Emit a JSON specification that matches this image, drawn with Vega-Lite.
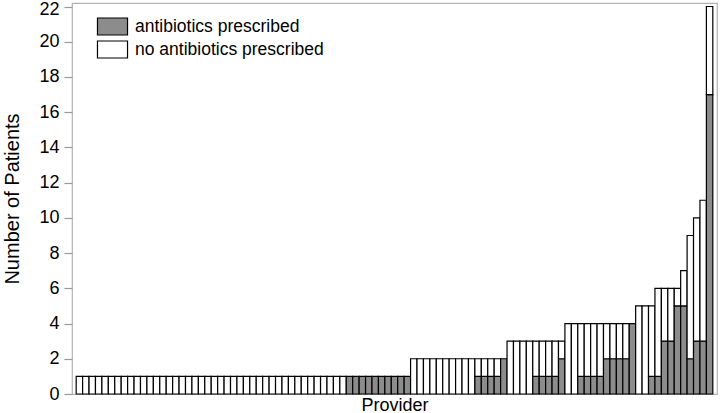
{
  "$schema": "https://vega.github.io/schema/vega-lite/v6.json",
  "autosize": {"type": "none"},
  "padding": {"left": 72, "top": 3, "right": 3, "bottom": 19},
  "width": 645,
  "height": 391,
  "background": "white",
  "config": {
    "font": "Liberation Sans",
    "view": {"stroke": "#b3b3b3", "strokeWidth": 1.2}
  },
  "data": {
    "values": [
      {"p":1,"antibiotics prescribed":0,"no antibiotics prescribed":1},
      {"p":2,"antibiotics prescribed":0,"no antibiotics prescribed":1},
      {"p":3,"antibiotics prescribed":0,"no antibiotics prescribed":1},
      {"p":4,"antibiotics prescribed":0,"no antibiotics prescribed":1},
      {"p":5,"antibiotics prescribed":0,"no antibiotics prescribed":1},
      {"p":6,"antibiotics prescribed":0,"no antibiotics prescribed":1},
      {"p":7,"antibiotics prescribed":0,"no antibiotics prescribed":1},
      {"p":8,"antibiotics prescribed":0,"no antibiotics prescribed":1},
      {"p":9,"antibiotics prescribed":0,"no antibiotics prescribed":1},
      {"p":10,"antibiotics prescribed":0,"no antibiotics prescribed":1},
      {"p":11,"antibiotics prescribed":0,"no antibiotics prescribed":1},
      {"p":12,"antibiotics prescribed":0,"no antibiotics prescribed":1},
      {"p":13,"antibiotics prescribed":0,"no antibiotics prescribed":1},
      {"p":14,"antibiotics prescribed":0,"no antibiotics prescribed":1},
      {"p":15,"antibiotics prescribed":0,"no antibiotics prescribed":1},
      {"p":16,"antibiotics prescribed":0,"no antibiotics prescribed":1},
      {"p":17,"antibiotics prescribed":0,"no antibiotics prescribed":1},
      {"p":18,"antibiotics prescribed":0,"no antibiotics prescribed":1},
      {"p":19,"antibiotics prescribed":0,"no antibiotics prescribed":1},
      {"p":20,"antibiotics prescribed":0,"no antibiotics prescribed":1},
      {"p":21,"antibiotics prescribed":0,"no antibiotics prescribed":1},
      {"p":22,"antibiotics prescribed":0,"no antibiotics prescribed":1},
      {"p":23,"antibiotics prescribed":0,"no antibiotics prescribed":1},
      {"p":24,"antibiotics prescribed":0,"no antibiotics prescribed":1},
      {"p":25,"antibiotics prescribed":0,"no antibiotics prescribed":1},
      {"p":26,"antibiotics prescribed":0,"no antibiotics prescribed":1},
      {"p":27,"antibiotics prescribed":0,"no antibiotics prescribed":1},
      {"p":28,"antibiotics prescribed":0,"no antibiotics prescribed":1},
      {"p":29,"antibiotics prescribed":0,"no antibiotics prescribed":1},
      {"p":30,"antibiotics prescribed":0,"no antibiotics prescribed":1},
      {"p":31,"antibiotics prescribed":0,"no antibiotics prescribed":1},
      {"p":32,"antibiotics prescribed":0,"no antibiotics prescribed":1},
      {"p":33,"antibiotics prescribed":0,"no antibiotics prescribed":1},
      {"p":34,"antibiotics prescribed":0,"no antibiotics prescribed":1},
      {"p":35,"antibiotics prescribed":0,"no antibiotics prescribed":1},
      {"p":36,"antibiotics prescribed":0,"no antibiotics prescribed":1},
      {"p":37,"antibiotics prescribed":0,"no antibiotics prescribed":1},
      {"p":38,"antibiotics prescribed":0,"no antibiotics prescribed":1},
      {"p":39,"antibiotics prescribed":0,"no antibiotics prescribed":1},
      {"p":40,"antibiotics prescribed":0,"no antibiotics prescribed":1},
      {"p":41,"antibiotics prescribed":0,"no antibiotics prescribed":1},
      {"p":42,"antibiotics prescribed":0,"no antibiotics prescribed":1},
      {"p":43,"antibiotics prescribed":1,"no antibiotics prescribed":0},
      {"p":44,"antibiotics prescribed":1,"no antibiotics prescribed":0},
      {"p":45,"antibiotics prescribed":1,"no antibiotics prescribed":0},
      {"p":46,"antibiotics prescribed":1,"no antibiotics prescribed":0},
      {"p":47,"antibiotics prescribed":1,"no antibiotics prescribed":0},
      {"p":48,"antibiotics prescribed":1,"no antibiotics prescribed":0},
      {"p":49,"antibiotics prescribed":1,"no antibiotics prescribed":0},
      {"p":50,"antibiotics prescribed":1,"no antibiotics prescribed":0},
      {"p":51,"antibiotics prescribed":1,"no antibiotics prescribed":0},
      {"p":52,"antibiotics prescribed":1,"no antibiotics prescribed":0},
      {"p":53,"antibiotics prescribed":0,"no antibiotics prescribed":2},
      {"p":54,"antibiotics prescribed":0,"no antibiotics prescribed":2},
      {"p":55,"antibiotics prescribed":0,"no antibiotics prescribed":2},
      {"p":56,"antibiotics prescribed":0,"no antibiotics prescribed":2},
      {"p":57,"antibiotics prescribed":0,"no antibiotics prescribed":2},
      {"p":58,"antibiotics prescribed":0,"no antibiotics prescribed":2},
      {"p":59,"antibiotics prescribed":0,"no antibiotics prescribed":2},
      {"p":60,"antibiotics prescribed":0,"no antibiotics prescribed":2},
      {"p":61,"antibiotics prescribed":0,"no antibiotics prescribed":2},
      {"p":62,"antibiotics prescribed":0,"no antibiotics prescribed":2},
      {"p":63,"antibiotics prescribed":1,"no antibiotics prescribed":1},
      {"p":64,"antibiotics prescribed":1,"no antibiotics prescribed":1},
      {"p":65,"antibiotics prescribed":1,"no antibiotics prescribed":1},
      {"p":66,"antibiotics prescribed":1,"no antibiotics prescribed":1},
      {"p":67,"antibiotics prescribed":2,"no antibiotics prescribed":0},
      {"p":68,"antibiotics prescribed":0,"no antibiotics prescribed":3},
      {"p":69,"antibiotics prescribed":0,"no antibiotics prescribed":3},
      {"p":70,"antibiotics prescribed":0,"no antibiotics prescribed":3},
      {"p":71,"antibiotics prescribed":0,"no antibiotics prescribed":3},
      {"p":72,"antibiotics prescribed":1,"no antibiotics prescribed":2},
      {"p":73,"antibiotics prescribed":1,"no antibiotics prescribed":2},
      {"p":74,"antibiotics prescribed":1,"no antibiotics prescribed":2},
      {"p":75,"antibiotics prescribed":1,"no antibiotics prescribed":2},
      {"p":76,"antibiotics prescribed":2,"no antibiotics prescribed":1},
      {"p":77,"antibiotics prescribed":0,"no antibiotics prescribed":4},
      {"p":78,"antibiotics prescribed":0,"no antibiotics prescribed":4},
      {"p":79,"antibiotics prescribed":1,"no antibiotics prescribed":3},
      {"p":80,"antibiotics prescribed":1,"no antibiotics prescribed":3},
      {"p":81,"antibiotics prescribed":1,"no antibiotics prescribed":3},
      {"p":82,"antibiotics prescribed":1,"no antibiotics prescribed":3},
      {"p":83,"antibiotics prescribed":2,"no antibiotics prescribed":2},
      {"p":84,"antibiotics prescribed":2,"no antibiotics prescribed":2},
      {"p":85,"antibiotics prescribed":2,"no antibiotics prescribed":2},
      {"p":86,"antibiotics prescribed":2,"no antibiotics prescribed":2},
      {"p":87,"antibiotics prescribed":4,"no antibiotics prescribed":0},
      {"p":88,"antibiotics prescribed":0,"no antibiotics prescribed":5},
      {"p":89,"antibiotics prescribed":0,"no antibiotics prescribed":5},
      {"p":90,"antibiotics prescribed":1,"no antibiotics prescribed":4},
      {"p":91,"antibiotics prescribed":1,"no antibiotics prescribed":5},
      {"p":92,"antibiotics prescribed":3,"no antibiotics prescribed":3},
      {"p":93,"antibiotics prescribed":3,"no antibiotics prescribed":3},
      {"p":94,"antibiotics prescribed":5,"no antibiotics prescribed":1},
      {"p":95,"antibiotics prescribed":5,"no antibiotics prescribed":2},
      {"p":96,"antibiotics prescribed":2,"no antibiotics prescribed":7},
      {"p":97,"antibiotics prescribed":3,"no antibiotics prescribed":7},
      {"p":98,"antibiotics prescribed":3,"no antibiotics prescribed":8},
      {"p":99,"antibiotics prescribed":17,"no antibiotics prescribed":5}
    ]
  },
  "transform": [
    {"fold": ["antibiotics prescribed", "no antibiotics prescribed"], "as": ["type", "n"]},
    {"filter": "datum.n > 0"}
  ],
  "mark": {"type": "bar", "stroke": "black", "strokeWidth": 1.2, "fillOpacity": 1},
  "encoding": {
    "x": {
      "field": "p",
      "type": "ordinal",
      "scale": {"paddingInner": 0, "paddingOuter": 0.65},
      "axis": {"labels": false, "ticks": false, "domain": false, "title": "Provider", "titleFontSize": 18, "titleFontWeight": "normal", "titleColor": "black", "titlePadding": 2}
    },
    "y": {
      "field": "n",
      "type": "quantitative",
      "stack": "zero",
      "scale": {"domain": [0, 22.2], "nice": false},
      "axis": {
        "values": [0, 2, 4, 6, 8, 10, 12, 14, 16, 18, 20, 22],
        "grid": false,
        "domain": false,
        "tickColor": "#999999",
        "tickSize": 8,
        "tickWidth": 1.2,
        "labelFontSize": 18,
        "labelColor": "black",
        "labelPadding": 5,
        "labelOffset": {"condition": {"test": "datum.value == 22", "value": 2.5}, "value": 0},
        "title": "Number of Patients",
        "titleFontSize": 20,
        "titleFontWeight": "normal",
        "titleColor": "black",
        "titlePadding": 16
      }
    },
    "color": {
      "field": "type",
      "type": "nominal",
      "scale": {"domain": ["antibiotics prescribed", "no antibiotics prescribed"], "range": ["#8c8c8c", "#ffffff"]},
      "legend": {
        "title": null,
        "orient": "none",
        "legendX": 29,
        "legendY": 12,
        "padding": 0,
        "symbolType": "M-1.41,-0.8H1.41V0.8H-1.41Z",
        "symbolSize": 454,
        "symbolStrokeColor": "black",
        "symbolStrokeWidth": 1.2,
        "symbolOpacity": 1,
        "rowPadding": 0,
        "labelFontSize": 17.5,
        "labelColor": "black",
        "labelOffset": 11,
        "labelLimit": 0
      }
    },
    "order": {"field": "type", "sort": "ascending"}
  }
}
